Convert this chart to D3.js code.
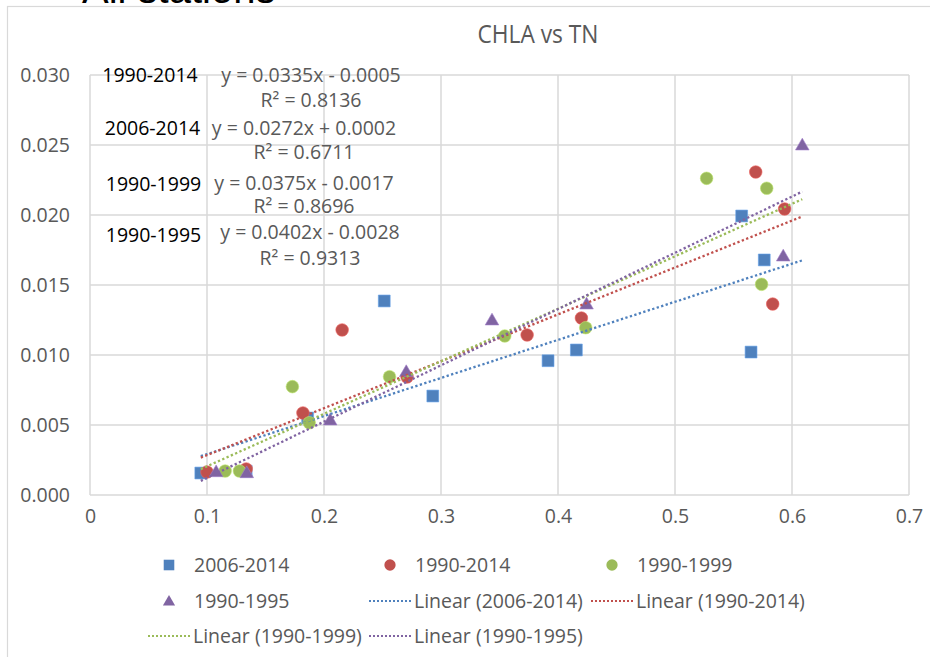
<!DOCTYPE html>
<html>
<head>
<meta charset="utf-8">
<script src="https://cdn.jsdelivr.net/npm/d3@7"></script>
<style>
  html, body { margin: 0; padding: 0; background: #fff; overflow: hidden; }
  svg { display: block; font-family: "Open Sans", "Noto Sans", sans-serif; }
</style>
</head>
<body>
<svg id="chart" width="930" height="657"></svg>
<script>
// ---------- data ----------
const categories = ["2006-2014", "1990-2014", "1990-1999", "1990-1995"];
const colors = ["#4F81BD", "#C0504D", "#9BBB59", "#8064A2"];
const shapes = ["square", "circle", "circle", "triangle"];

const tn2006_2014   = [0.0947, 0.1335, 0.186, 0.2515, 0.293, 0.3915, 0.4157, 0.557, 0.5763, 0.565];
const chla2006_2014 = [0.00157, 0.0017, 0.0055, 0.01386, 0.00707, 0.00959, 0.01036, 0.01993, 0.01679, 0.01021];

const tn1990_2014   = [0.1, 0.1335, 0.182, 0.2155, 0.271, 0.3736, 0.42, 0.569, 0.5937, 0.5835];
const chla1990_2014 = [0.00164, 0.00186, 0.00586, 0.01179, 0.00843, 0.01143, 0.01264, 0.02307, 0.02043, 0.01364];

const tn1990_1999   = [0.1155, 0.1277, 0.173, 0.1874, 0.256, 0.3545, 0.4237, 0.527, 0.5784, 0.574];
const chla1990_1999 = [0.00171, 0.00171, 0.00774, 0.00516, 0.00845, 0.01136, 0.01195, 0.02262, 0.02191, 0.01505];

const tn1990_1995   = [0.1078, 0.134, 0.2053, 0.2703, 0.3436, 0.4244, 0.6088, 0.5925];
const chla1990_1995 = [0.00166, 0.00159, 0.00536, 0.00881, 0.0125, 0.01364, 0.025, 0.01707];

const slopes     = [0.0272, 0.0335, 0.0375, 0.0402];
const intercepts = [0.0002, -0.0005, -0.0017, -0.0028];
const rSquared   = [0.6711, 0.8136, 0.8696, 0.9313];

const xTickValues = [0, 0.1, 0.2, 0.3, 0.4, 0.5, 0.6, 0.7];
const xTickLabels = ["0", "0.1", "0.2", "0.3", "0.4", "0.5", "0.6", "0.7"];
const yTickValues = [0, 0.005, 0.01, 0.015, 0.02, 0.025, 0.03];
const yTickLabels = ["0.000", "0.005", "0.010", "0.015", "0.020", "0.025", "0.030"];

const chartTitle = "CHLA vs TN";
const pageHeading = "All stations";
// order of annotation blocks (top to bottom)
const annotationOrder = [1, 0, 2, 3];

// ---------- build ----------
const seriesX = [tn2006_2014, tn1990_2014, tn1990_1999, tn1990_1995];
const seriesY = [chla2006_2014, chla1990_2014, chla1990_1999, chla1990_1995];
const series = categories.map((name, i) => ({
  name, color: colors[i], shape: shapes[i],
  points: seriesX[i].map((x, j) => ({ x, y: seriesY[i][j] })),
  slope: slopes[i], intercept: intercepts[i], r2: rSquared[i]
}));

const svg = d3.select("#chart");
const gray = "#595959";
const gridColor = "#d9d9d9";
const fs = 19.5;

// page heading (cut off at top, as in the reference)
svg.append("text").attr("x", 82).attr("y", 2.5)
  .attr("font-family", "Liberation Sans, Arial, sans-serif")
  .attr("font-size", 40).attr("fill", "#000").text(pageHeading);

// chart area border
svg.append("rect").attr("x", 7.5).attr("y", 6.5).attr("width", 1000).attr("height", 1000)
  .attr("fill", "#fff").attr("stroke", gridColor).attr("stroke-width", 1.2);

const x = d3.scaleLinear().domain([0, 0.7]).range([90, 909]);
const y = d3.scaleLinear().domain([0, 0.03]).range([495, 75]);

// gridlines
const grid = svg.append("g");
grid.selectAll("line.v").data(xTickValues).join("line")
  .attr("x1", d => x(d)).attr("x2", d => x(d)).attr("y1", y(0.03)).attr("y2", y(0))
  .attr("stroke", gridColor).attr("stroke-width", 1.5);
grid.selectAll("line.h").data(yTickValues).join("line")
  .attr("x1", x(0)).attr("x2", x(0.7)).attr("y1", d => y(d)).attr("y2", d => y(d))
  .attr("stroke", gridColor).attr("stroke-width", 1.5);

// axes (labels only)
const yAxis = svg.append("g").attr("transform", `translate(${x(0)},0)`)
  .call(d3.axisLeft(y).tickValues(yTickValues).tickSize(0).tickPadding(20)
    .tickFormat((d, i) => yTickLabels[i]));
yAxis.select(".domain").remove();
yAxis.selectAll("text").attr("font-size", fs).attr("fill", gray)
  .attr("font-family", "Open Sans, sans-serif");

const xAxis = svg.append("g").attr("transform", `translate(0,${y(0)})`)
  .call(d3.axisBottom(x).tickValues(xTickValues).tickSize(0).tickPadding(14)
    .tickFormat((d, i) => xTickLabels[i]));
xAxis.select(".domain").remove();
xAxis.selectAll("text").attr("font-size", fs).attr("fill", gray)
  .attr("font-family", "Open Sans, sans-serif");

// title
const title = svg.append("text").attr("x", 538).attr("y", 43).attr("text-anchor", "middle")
  .attr("font-family", "Liberation Sans Narrow, Open Sans, sans-serif")
  .attr("font-size", 25).attr("fill", gray).text(chartTitle);
{
  const w = title.node().getComputedTextLength();
  if (w > 124) title.attr("textLength", 121).attr("lengthAdjust", "spacingAndGlyphs");
}

// marker symbol generator
function symbolPath(shape, scale) {
  if (shape === "square") return d3.symbol(d3.symbolSquare, 140 * scale)();
  if (shape === "circle") return d3.symbol(d3.symbolCircle, 125 * scale)();
  return d3.symbol(d3.symbolTriangle, 80 * scale)();
}

// markers
series.forEach(s => {
  svg.append("g").selectAll("path").data(s.points).join("path")
    .attr("d", symbolPath(s.shape, 1))
    .attr("transform", d => `translate(${x(d.x)},${y(d.y) + (s.shape === "triangle" ? 1 : 0)})`)
    .attr("fill", s.color)
    .attr("stroke", d3.color(s.color).brighter(0.6)).attr("stroke-width", 0.6);
});

// trendlines across full x range
const allX = series.flatMap(s => s.points.map(p => p.x));
const [xmin, xmax] = d3.extent(allX);
const lineGen = d3.line().x(d => x(d[0])).y(d => y(d[1]));
series.forEach(s => {
  const pts = [xmin, xmax].map(v => [v, s.slope * v + s.intercept]);
  svg.append("path").attr("d", lineGen(pts))
    .attr("fill", "none").attr("stroke", s.color).attr("stroke-width", 2.3)
    .attr("stroke-dasharray", "2.3,2.4");
});

// annotations
const fmtEq = s => `y = ${s.slope.toFixed(4)}x ${s.intercept < 0 ? "-" : "+"} ${Math.abs(s.intercept).toFixed(4)}`;
const annLayout = [
  { lx: 150, ly: 75, ex: 311, ey: 75, ry: 100 },
  { lx: 152.5, ly: 128, ex: 304, ey: 128, ry: 152 },
  { lx: 153.5, ly: 184, ex: 304, ey: 183, ry: 206 },
  { lx: 153.5, ly: 235, ex: 310, ey: 232, ry: 258 }
];
annotationOrder.forEach((si, k) => {
  const s = series[si], L = annLayout[k];
  svg.append("text").attr("x", L.lx).attr("y", L.ly).attr("dy", "0.35em")
    .attr("text-anchor", "middle").attr("font-size", fs).attr("fill", "#000").text(s.name);
  svg.append("text").attr("x", L.ex).attr("y", L.ey).attr("dy", "0.35em")
    .attr("text-anchor", "middle").attr("font-size", fs).attr("fill", gray).text(fmtEq(s));
  svg.append("text").attr("x", L.ex).attr("y", L.ry).attr("dy", "0.35em")
    .attr("text-anchor", "middle").attr("font-size", fs).attr("fill", gray)
    .text(`R² = ${s.r2.toFixed(4)}`);
});

// legend
const legendItems = [
  ...series.map(s => ({ type: "marker", s, label: s.name })),
  ...series.map(s => ({ type: "line", s, label: `Linear (${s.name})` }))
];
const colX = [148, 369, 591];
const rowY = [565, 601, 636];
const legend = svg.append("g");
legendItems.forEach((it, i) => {
  const c = i % 3, r = Math.floor(i / 3);
  const g = legend.append("g").attr("transform", `translate(${colX[c]},${rowY[r]})`);
  if (it.type === "marker") {
    g.append("path").attr("d", symbolPath(it.s.shape, 0.8))
      .attr("transform", `translate(21,${it.s.shape === "triangle" ? 1 : 0})`)
      .attr("fill", it.s.color);
  } else {
    g.append("line").attr("x1", 0).attr("x2", 42).attr("y1", 0).attr("y2", 0)
      .attr("stroke", it.s.color).attr("stroke-width", 2)
      .attr("stroke-dasharray", "2,2");
  }
  g.append("text").attr("x", it.type === "marker" ? 46 : 45).attr("y", 0).attr("dy", "0.35em")
    .attr("font-size", fs).attr("fill", gray).text(it.label);
});
</script>
</body>
</html>
